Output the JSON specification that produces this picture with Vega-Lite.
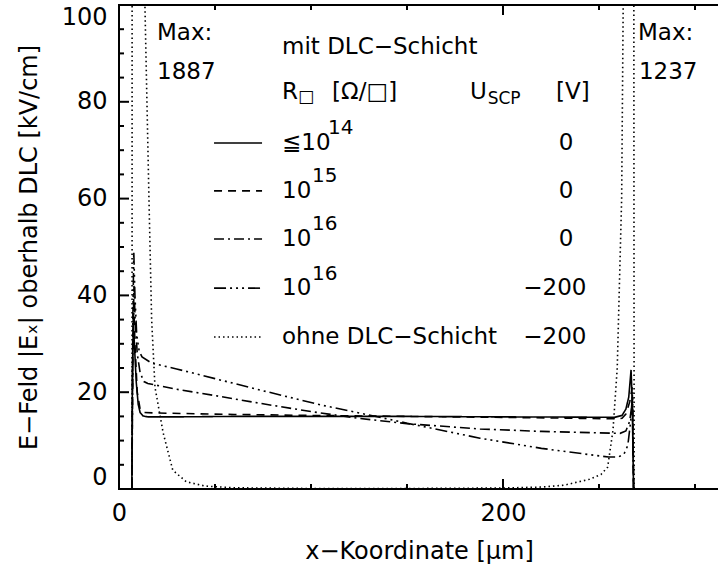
{
  "$schema": "https://vega.github.io/schema/vega-lite/v6.json",
  "width": 600,
  "height": 484,
  "autosize": {"type": "none"},
  "padding": {"left": 119, "top": 5, "right": 0, "bottom": 78},
  "background": "white",
  "config": {
    "view": {"stroke": "black", "strokeWidth": 2},
    "font": "DejaVu Sans",
    "axis": {"grid": false, "domain": false, "ticks": false, "labelColor": "black", "titleColor": "black", "labelFont": "DejaVu Sans", "titleFont": "DejaVu Sans", "labelFontSize": 24, "titleFontSize": 24, "titleFontWeight": "normal"}
  },
  "datasets": {
    "curves": [
      {"s": "a", "x": 6.7, "y": 0}, {"s": "a", "x": 7.0, "y": 25}, {"s": "a", "x": 7.5, "y": 34}, {"s": "a", "x": 8.0, "y": 30}, {"s": "a", "x": 9.0, "y": 22}, {"s": "a", "x": 10.0, "y": 17.5}, {"s": "a", "x": 11.0, "y": 15.8}, {"s": "a", "x": 12.5, "y": 15.1}, {"s": "a", "x": 15, "y": 14.9}, {"s": "a", "x": 30, "y": 14.9}, {"s": "a", "x": 60, "y": 15.0}, {"s": "a", "x": 100, "y": 15.0}, {"s": "a", "x": 150, "y": 15.0}, {"s": "a", "x": 200, "y": 14.9}, {"s": "a", "x": 240, "y": 14.85}, {"s": "a", "x": 258, "y": 14.8}, {"s": "a", "x": 262, "y": 15.2}, {"s": "a", "x": 264, "y": 16.5}, {"s": "a", "x": 265.5, "y": 19}, {"s": "a", "x": 266.7, "y": 24.6}, {"s": "a", "x": 267.3, "y": 18}, {"s": "a", "x": 267.8, "y": 5}, {"s": "a", "x": 268, "y": 0},
      {"s": "b", "x": 6.7, "y": 0}, {"s": "b", "x": 7.2, "y": 30}, {"s": "b", "x": 7.7, "y": 38}, {"s": "b", "x": 8.3, "y": 30}, {"s": "b", "x": 9.5, "y": 20}, {"s": "b", "x": 11, "y": 16.5}, {"s": "b", "x": 13, "y": 15.8}, {"s": "b", "x": 20, "y": 15.7}, {"s": "b", "x": 60, "y": 15.4}, {"s": "b", "x": 100, "y": 15.2}, {"s": "b", "x": 150, "y": 15.0}, {"s": "b", "x": 200, "y": 14.8}, {"s": "b", "x": 240, "y": 14.6}, {"s": "b", "x": 258, "y": 14.5}, {"s": "b", "x": 262, "y": 14.6}, {"s": "b", "x": 264, "y": 15.5}, {"s": "b", "x": 266, "y": 18}, {"s": "b", "x": 267.3, "y": 21}, {"s": "b", "x": 267.8, "y": 10}, {"s": "b", "x": 268, "y": 0},
      {"s": "c", "x": 6.7, "y": 0}, {"s": "c", "x": 7.3, "y": 30}, {"s": "c", "x": 7.8, "y": 42}, {"s": "c", "x": 8.4, "y": 35}, {"s": "c", "x": 9.5, "y": 28}, {"s": "c", "x": 11, "y": 24}, {"s": "c", "x": 13, "y": 22.2}, {"s": "c", "x": 15, "y": 21.8}, {"s": "c", "x": 30, "y": 20.6}, {"s": "c", "x": 50, "y": 19.3}, {"s": "c", "x": 75, "y": 17.6}, {"s": "c", "x": 100, "y": 16.0}, {"s": "c", "x": 125, "y": 14.6}, {"s": "c", "x": 150, "y": 13.5}, {"s": "c", "x": 188, "y": 12.4}, {"s": "c", "x": 220, "y": 11.9}, {"s": "c", "x": 250, "y": 11.6}, {"s": "c", "x": 261, "y": 11.5}, {"s": "c", "x": 264, "y": 12}, {"s": "c", "x": 266, "y": 14}, {"s": "c", "x": 267.3, "y": 18}, {"s": "c", "x": 267.8, "y": 8}, {"s": "c", "x": 268, "y": 0},
      {"s": "d", "x": 6.7, "y": 0}, {"s": "d", "x": 7.2, "y": 35}, {"s": "d", "x": 7.7, "y": 49}, {"s": "d", "x": 8.3, "y": 40}, {"s": "d", "x": 9.2, "y": 32}, {"s": "d", "x": 10.5, "y": 28.5}, {"s": "d", "x": 12, "y": 27.3}, {"s": "d", "x": 17, "y": 26}, {"s": "d", "x": 30, "y": 24.8}, {"s": "d", "x": 50, "y": 22.8}, {"s": "d", "x": 75, "y": 20.3}, {"s": "d", "x": 104.7, "y": 17.4}, {"s": "d", "x": 130, "y": 15.3}, {"s": "d", "x": 150, "y": 13.6}, {"s": "d", "x": 188, "y": 10.5}, {"s": "d", "x": 220, "y": 8.4}, {"s": "d", "x": 245, "y": 7.1}, {"s": "d", "x": 255, "y": 6.6}, {"s": "d", "x": 260, "y": 6.6}, {"s": "d", "x": 263, "y": 7.2}, {"s": "d", "x": 265, "y": 9}, {"s": "d", "x": 266.5, "y": 14}, {"s": "d", "x": 267.5, "y": 20}, {"s": "d", "x": 268, "y": 0},
      {"s": "e", "x": 6.8, "y": 0}, {"s": "e", "x": 7.3, "y": 1887}, {"s": "e", "x": 13.5, "y": 100}, {"s": "e", "x": 15.6, "y": 60}, {"s": "e", "x": 17, "y": 35}, {"s": "e", "x": 18.75, "y": 21}, {"s": "e", "x": 23, "y": 11.6}, {"s": "e", "x": 28, "y": 3.9}, {"s": "e", "x": 35, "y": 1.5}, {"s": "e", "x": 45, "y": 0.6}, {"s": "e", "x": 60, "y": 0.25}, {"s": "e", "x": 100, "y": 0.1}, {"s": "e", "x": 150, "y": 0.1}, {"s": "e", "x": 200, "y": 0.2}, {"s": "e", "x": 220, "y": 0.4}, {"s": "e", "x": 232, "y": 0.8}, {"s": "e", "x": 245, "y": 2}, {"s": "e", "x": 251, "y": 3}, {"s": "e", "x": 254.5, "y": 4.5}, {"s": "e", "x": 257.3, "y": 12.2}, {"s": "e", "x": 259.5, "y": 25}, {"s": "e", "x": 261.8, "y": 60}, {"s": "e", "x": 262.6, "y": 100}, {"s": "e", "x": 266.5, "y": 1237}, {"s": "e", "x": 268.3, "y": 0}
    ],
    "samples": [
      {"s": "a", "x": 49.5, "x2": 74.5, "y": 71.5},
      {"s": "b", "x": 49.5, "x2": 74.5, "y": 61.6},
      {"s": "c", "x": 49.5, "x2": 74.5, "y": 51.65},
      {"s": "d", "x": 49.5, "x2": 74.5, "y": 41.5},
      {"s": "e", "x": 49.5, "x2": 74.5, "y": 31.4}
    ],
    "xMajor": [{"v": 0}, {"v": 200}],
    "xMinor": [{"v": 50}, {"v": 100}, {"v": 150}, {"v": 250}, {"v": 300}],
    "yMajor": [{"v": 20}, {"v": 40}, {"v": 60}, {"v": 80}],
    "yMinor": [{"v": 5}, {"v": 10}, {"v": 15}, {"v": 25}, {"v": 30}, {"v": 35}, {"v": 45}, {"v": 50}, {"v": 55}, {"v": 65}, {"v": 70}, {"v": 75}, {"v": 85}, {"v": 90}, {"v": 95}],
    "mainText": [
      {"t": "Max:", "x": 19.8, "y": 94.2},
      {"t": "1887", "x": 19.8, "y": 86.2},
      {"t": "Max:", "x": 270.3, "y": 94.2},
      {"t": "1237", "x": 270.8, "y": 86.2},
      {"t": "mit DLC−Schicht", "x": 84.9, "y": 91.3},
      {"t": "R", "x": 84.9, "y": 82.0},
      {"t": "[Ω/□]", "x": 111, "y": 82.0},
      {"t": "U", "x": 182.8, "y": 82.0},
      {"t": "[V]", "x": 227.6, "y": 82.0},
      {"t": "≦10", "x": 84.9, "y": 71.5},
      {"t": "10", "x": 84.9, "y": 61.6},
      {"t": "10", "x": 84.9, "y": 51.65},
      {"t": "10", "x": 84.9, "y": 41.5},
      {"t": "ohne DLC−Schicht", "x": 84.9, "y": 31.4}
    ],
    "smallText": [
      {"t": "□", "x": 93.2, "y": 80.9},
      {"t": "SCP", "x": 192, "y": 80.6}
    ],
    "supText": [
      {"t": "14", "x": 108.9, "y": 74.6},
      {"t": "15", "x": 100.5, "y": 64.6},
      {"t": "16", "x": 100.5, "y": 54.65},
      {"t": "16", "x": 100.5, "y": 44.5}
    ],
    "colText": [
      {"t": "0", "x": 232.8, "y": 71.5},
      {"t": "0", "x": 232.8, "y": 61.6},
      {"t": "0", "x": 232.8, "y": 51.65},
      {"t": "−200", "x": 227, "y": 41.5},
      {"t": "−200", "x": 227, "y": 31.4}
    ]
  },
  "layer": [
    {
      "data": {"name": "curves"},
      "mark": {"type": "line", "clip": true, "strokeWidth": 1.6, "color": "black"},
      "encoding": {
        "x": {"field": "x", "type": "quantitative", "scale": {"domain": [0, 312.5], "nice": false, "zero": false},
          "axis": {"orient": "bottom", "values": [0, 200], "labelPadding": 12, "labelFlush": false, "title": "x−Koordinate [µm]", "titlePadding": 14}},
        "y": {"field": "y", "type": "quantitative", "scale": {"domain": [0, 100], "nice": false},
          "axis": {"orient": "left", "values": [0, 20, 40, 60, 80, 100], "labelPadding": 12, "labelFlush": true, "title": "E−Feld |Eₓ| oberhalb DLC [kV/cm]", "titlePadding": 20}},
        "strokeDash": {"field": "s", "type": "nominal", "legend": null,
          "scale": {"domain": ["a", "b", "c", "d", "e"], "range": [[1, 0], [8, 6], [10, 4, 2, 4], [12, 4, 2, 4, 2, 4, 2, 4], [1.5, 3]]}}
      }
    },
    {
      "data": {"name": "xMajor"},
      "mark": {"type": "rule", "color": "black", "strokeWidth": 2, "y2Offset": -10},
      "encoding": {"x": {"field": "v", "type": "quantitative"}, "y": {"datum": 0}, "y2": {"datum": 0}}
    },
    {
      "data": {"name": "xMajor"},
      "mark": {"type": "rule", "color": "black", "strokeWidth": 2, "y2Offset": 10},
      "encoding": {"x": {"field": "v", "type": "quantitative"}, "y": {"datum": 100}, "y2": {"datum": 100}}
    },
    {
      "data": {"name": "xMinor"},
      "mark": {"type": "rule", "color": "black", "strokeWidth": 2, "y2Offset": -5},
      "encoding": {"x": {"field": "v", "type": "quantitative"}, "y": {"datum": 0}, "y2": {"datum": 0}}
    },
    {
      "data": {"name": "xMinor"},
      "mark": {"type": "rule", "color": "black", "strokeWidth": 2, "y2Offset": 5},
      "encoding": {"x": {"field": "v", "type": "quantitative"}, "y": {"datum": 100}, "y2": {"datum": 100}}
    },
    {
      "data": {"name": "yMajor"},
      "mark": {"type": "rule", "color": "black", "strokeWidth": 2, "x2Offset": 10},
      "encoding": {"y": {"field": "v", "type": "quantitative"}, "x": {"datum": 0}, "x2": {"datum": 0}}
    },
    {
      "data": {"name": "yMinor"},
      "mark": {"type": "rule", "color": "black", "strokeWidth": 2, "x2Offset": 5},
      "encoding": {"y": {"field": "v", "type": "quantitative"}, "x": {"datum": 0}, "x2": {"datum": 0}}
    },
    {
      "data": {"name": "samples"},
      "mark": {"type": "rule", "strokeWidth": 1.6, "color": "black"},
      "encoding": {
        "x": {"field": "x", "type": "quantitative"},
        "x2": {"field": "x2"},
        "y": {"field": "y", "type": "quantitative"},
        "strokeDash": {"field": "s", "type": "nominal", "legend": null}
      }
    },
    {
      "data": {"name": "mainText"},
      "mark": {"type": "text", "align": "left", "baseline": "middle", "fontSize": 23, "font": "DejaVu Sans", "color": "black"},
      "encoding": {
        "x": {"field": "x", "type": "quantitative"},
        "y": {"field": "y", "type": "quantitative"},
        "text": {"field": "t"}
      }
    },
    {
      "data": {"name": "smallText"},
      "mark": {"type": "text", "align": "left", "baseline": "middle", "fontSize": 17, "font": "DejaVu Sans", "color": "black"},
      "encoding": {
        "x": {"field": "x", "type": "quantitative"},
        "y": {"field": "y", "type": "quantitative"},
        "text": {"field": "t"}
      }
    },
    {
      "data": {"name": "supText"},
      "mark": {"type": "text", "align": "left", "baseline": "middle", "fontSize": 20, "font": "DejaVu Sans", "color": "black"},
      "encoding": {
        "x": {"field": "x", "type": "quantitative"},
        "y": {"field": "y", "type": "quantitative"},
        "text": {"field": "t"}
      }
    },
    {
      "data": {"name": "colText"},
      "mark": {"type": "text", "align": "center", "baseline": "middle", "fontSize": 23, "font": "DejaVu Sans", "color": "black"},
      "encoding": {
        "x": {"field": "x", "type": "quantitative"},
        "y": {"field": "y", "type": "quantitative"},
        "text": {"field": "t"}
      }
    }
  ]
}
